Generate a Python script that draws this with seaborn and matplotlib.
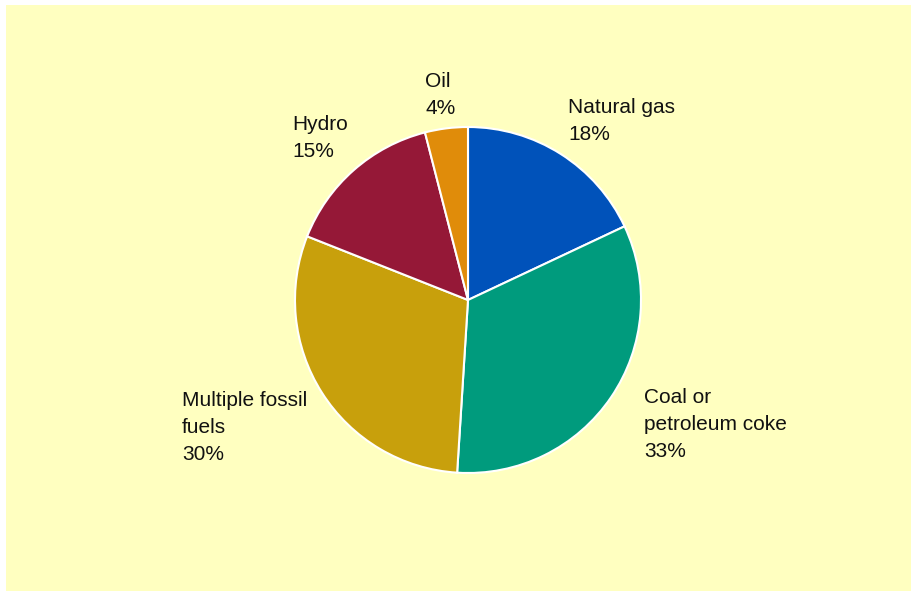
import matplotlib
matplotlib.use("Agg")
import matplotlib.pyplot as plt
import matplotlib.patches as mpatches
import seaborn as sns

# Electricity generation by fuel source (share of total)
sources = ["Natural gas", "Coal or\npetroleum coke", "Multiple fossil\nfuels", "Hydro", "Oil"]
shares = [18, 33, 30, 15, 4]
colors = ["#0052BA", "#009B7D", "#C8A00C", "#951837", "#E08C0A"]

# label anchor (left edge, baseline of first line) in figure pixels
label_pos = [(568, 113), (644, 403), (182, 406), (292, 130), (425, 87)]
LINE_PITCH = 27

sns.set_theme(style="white")
plt.rcParams["font.family"] = ["Liberation Sans", "DejaVu Sans"]

W, H = 916, 592
fig = plt.figure(figsize=(W / 100, H / 100), dpi=100)
fig.patch.set_facecolor("white")

# pale yellow panel behind the chart
fig.patches.append(mpatches.Rectangle((6 / W, 1 - 591 / H), (911 - 6) / W, (591 - 5) / H,
                                      transform=fig.transFigure, facecolor="#FFFFC0",
                                      edgecolor="none", zorder=-10))

cx, cy, r = 468, 300, 173
ax = fig.add_axes([(cx - r) / W, 1 - (cy + r) / H, 2 * r / W, 2 * r / H])
ax.set_zorder(1)
palette = sns.color_palette(colors)
ax.pie(shares, colors=palette, startangle=90, counterclock=False,
       wedgeprops=dict(edgecolor="white", linewidth=1.5))
ax.set_xlim(-1, 1)
ax.set_ylim(-1, 1)
ax.patch.set_alpha(0)

for name, val, (px, py) in zip(sources, shares, label_pos):
    lines = f"{name}\n{val}%".split("\n")
    for i, line in enumerate(lines):
        fig.text(px / W, 1 - (py + i * LINE_PITCH) / H, line, ha="left", va="baseline",
                 fontsize=15, color="#111111", zorder=5)

fig.savefig("out.png", dpi=100)
